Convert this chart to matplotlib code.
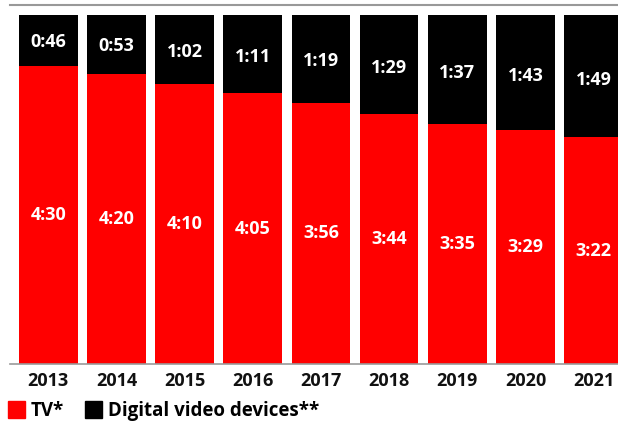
import numpy as np
import matplotlib.pyplot as plt
from matplotlib.patches import Patch

years = ['2013', '2014', '2015', '2016', '2017', '2018', '2019', '2020', '2021']
tv_labels = ['4:30', '4:20', '4:10', '4:05', '3:56', '3:44', '3:35', '3:29', '3:22']
dv_labels = ['0:46', '0:53', '1:02', '1:11', '1:19', '1:29', '1:37', '1:43', '1:49']


def to_min(s):
    h, m = s.split(':')
    return int(h) * 60 + int(m)


tv = np.array([to_min(s) for s in tv_labels])
dv = np.array([to_min(s) for s in dv_labels])
total = tv + dv
tv_pct = tv / total * 100
dv_pct = dv / total * 100

plt.rcParams['font.family'] = ['Open Sans', 'DejaVu Sans']

fig = plt.figure(figsize=(6.18, 4.23), dpi=100)
ax = fig.add_axes([10 / 618, 1 - 364 / 423, 1 - 10 / 618, (364 - 5) / 423])

x = np.arange(len(years))
ax.bar(x, tv_pct, width=0.86, color='#ff0000')
ax.bar(x, dv_pct, bottom=tv_pct, width=0.86, color='#000000')

fs = 13
for i in range(len(years)):
    ax.text(x[i], tv_pct[i] / 2, tv_labels[i], ha='center', va='center',
            color='white', fontsize=fs, fontweight='bold')
    ax.text(x[i], tv_pct[i] + dv_pct[i] * 0.47, dv_labels[i], ha='center', va='center',
            color='white', fontsize=fs, fontweight='bold')

ax.set_xlim(-0.562, 8.358)
ax.set_ylim(0, 100 * 359 / 349)
ax.set_xticks(x)
ax.set_xticklabels(years, fontsize=fs, fontweight='bold', color='#111111')
ax.tick_params(axis='x', length=0, pad=6)
ax.set_yticks([])
for s in ['left', 'right']:
    ax.spines[s].set_visible(False)
ax.spines['top'].set_color('#999999')
ax.spines['top'].set_linewidth(1.5)
ax.spines['bottom'].set_color('#999999')
ax.spines['bottom'].set_linewidth(1.2)

handles = [Patch(color='#ff0000', label='TV*'),
           Patch(color='#000000', label='Digital video devices**')]
fig.legend(handles=handles, loc='lower left', bbox_to_anchor=(8 / 618, 2 / 423), ncol=2,
           frameon=False, borderpad=0, borderaxespad=0,
           handlelength=0.9, handleheight=1.0, handletextpad=0.3,
           columnspacing=1.15, prop={'weight': 'bold', 'size': 13.5})

fig.savefig('out.png', dpi=100)
